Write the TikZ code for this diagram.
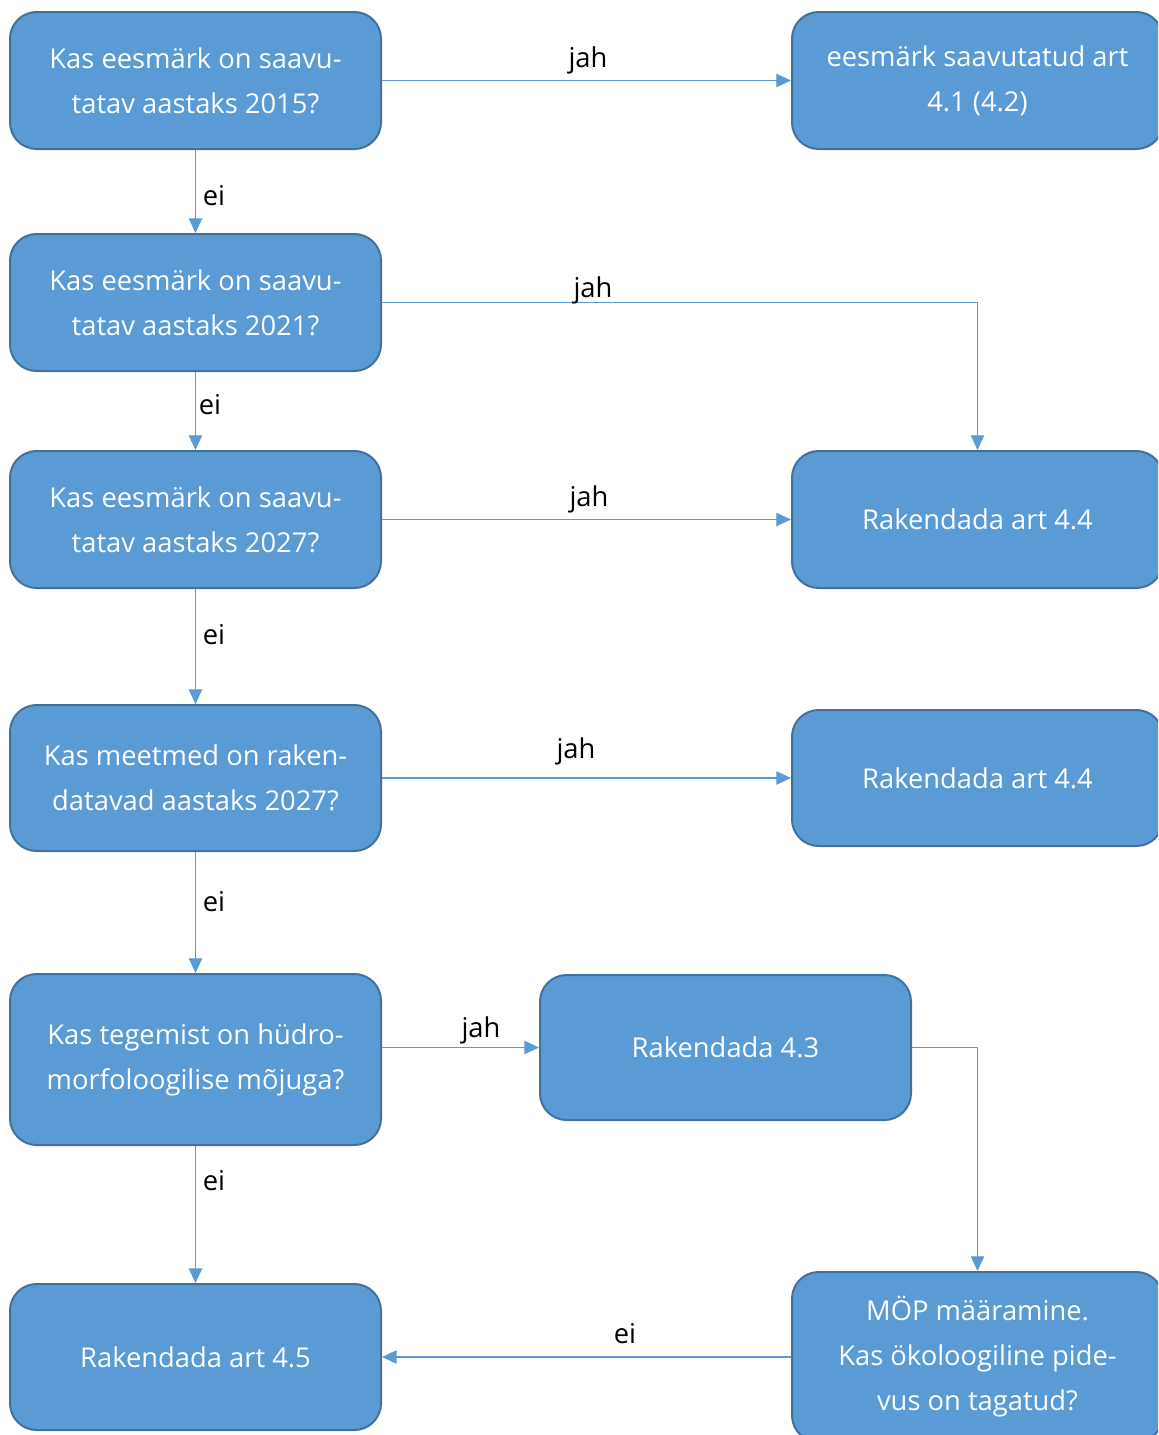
\documentclass[tikz,border=0pt]{standalone}
\usepackage{fontspec}
\setmainfont{Open Sans}
\usetikzlibrary{arrows.meta}
\definecolor{boxfill}{HTML}{5B9BD5}
\definecolor{boxline}{HTML}{41719C}
\definecolor{conn}{HTML}{5B9BD5}
\tikzset{
  box/.style={draw=boxline, fill=boxfill, line width=1.5pt, rounded corners=20pt,
    minimum width=278.25pt, inner sep=0pt, align=center, text=white,
    font=\fontsize{20.5}{33.75}\selectfont},
  conn/.style={draw=conn, line width=0.9pt, -{Triangle[length=11pt,width=10pt]}},
  lbl/.style={text=black, inner sep=0pt, font=\fontsize{20.5}{24}\selectfont}
}
\begin{document}
\begin{tikzpicture}[x=0.75pt,y=-0.75pt]
\clip (0,0) rectangle (1158,1435);
\fill[white] (0,0) rectangle (1158,1435);
% left column
\node[box, minimum height=102.75pt] (b1) at (195.5,80.5) {Kas eesmärk on saavu-\\tatav aastaks 2015?};
\node[box, minimum height=102.75pt] (b2) at (195.5,302.5) {Kas eesmärk on saavu-\\tatav aastaks 2021?};
\node[box, minimum height=102.75pt] (b3) at (195.5,519.5) {Kas eesmärk on saavu-\\tatav aastaks 2027?};
\node[box, minimum height=109.5pt] (b4) at (195.5,778) {Kas meetmed on raken-\\datavad aastaks 2027?};
\node[box, minimum height=128.25pt] (b5) at (195.5,1059.5) {Kas tegemist on hüdro-\\morfoloogilise mõjuga?};
\node[box, minimum height=109.5pt] (b6) at (195.5,1357) {Rakendada art 4.5};
% right column
\node[box, minimum height=102.75pt] (r1) at (977.5,80.5) {eesmärk saavutatud art\\4.1 (4.2)};
\node[box, minimum height=102.75pt] (r2) at (977.5,519.5) {Rakendada art 4.4};
\node[box, minimum height=102pt] (r3) at (977.5,778) {Rakendada art 4.4};
\node[box, minimum height=108.75pt] (r5) at (725.5,1047.5) {Rakendada 4.3};
\node[box, minimum height=127.5pt] (r6) at (977.5,1357) {MÖP määramine.\\Kas ökoloogiline pide-\\vus on tagatud?};
% connectors
\draw[conn] (b1.east) -- (r1.west);
\draw[conn] (b1.south) -- (b2.north);
\draw[conn] (b2.east) -| (r2.north);
\draw[conn] (b2.south) -- (b3.north);
\draw[conn] (b3.east) -- (r2.west);
\draw[conn] (b3.south) -- (b4.north);
\draw[conn] (b4.east) -- (r3.west);
\draw[conn] (b4.south) -- (b5.north);
\draw[conn] (b5.east |- r5.west) -- (r5.west);
\draw[conn] (r5.east) -| (r6.north);
\draw[conn] (b5.south) -- (b6.north);
\draw[conn] (r6.west) -- (b6.east);
% labels
\node[lbl] (l1) at (588,60) {jah};
\node[lbl] (l2) at (214,196) {ei};
\node[lbl] (l3) at (593,290) {jah};
\node[lbl] (l4) at (210,405) {ei};
\node[lbl] (l5) at (589,499) {jah};
\node[lbl] (l6) at (214,635) {ei};
\node[lbl] (l7) at (576,751) {jah};
\node[lbl] (l8) at (214,902) {ei};
\node[lbl] (l9) at (481,1030) {jah};
\node[lbl] (l10) at (214,1181) {ei};
\node[lbl] (l11) at (625,1334) {ei};
\end{tikzpicture}
\end{document}
